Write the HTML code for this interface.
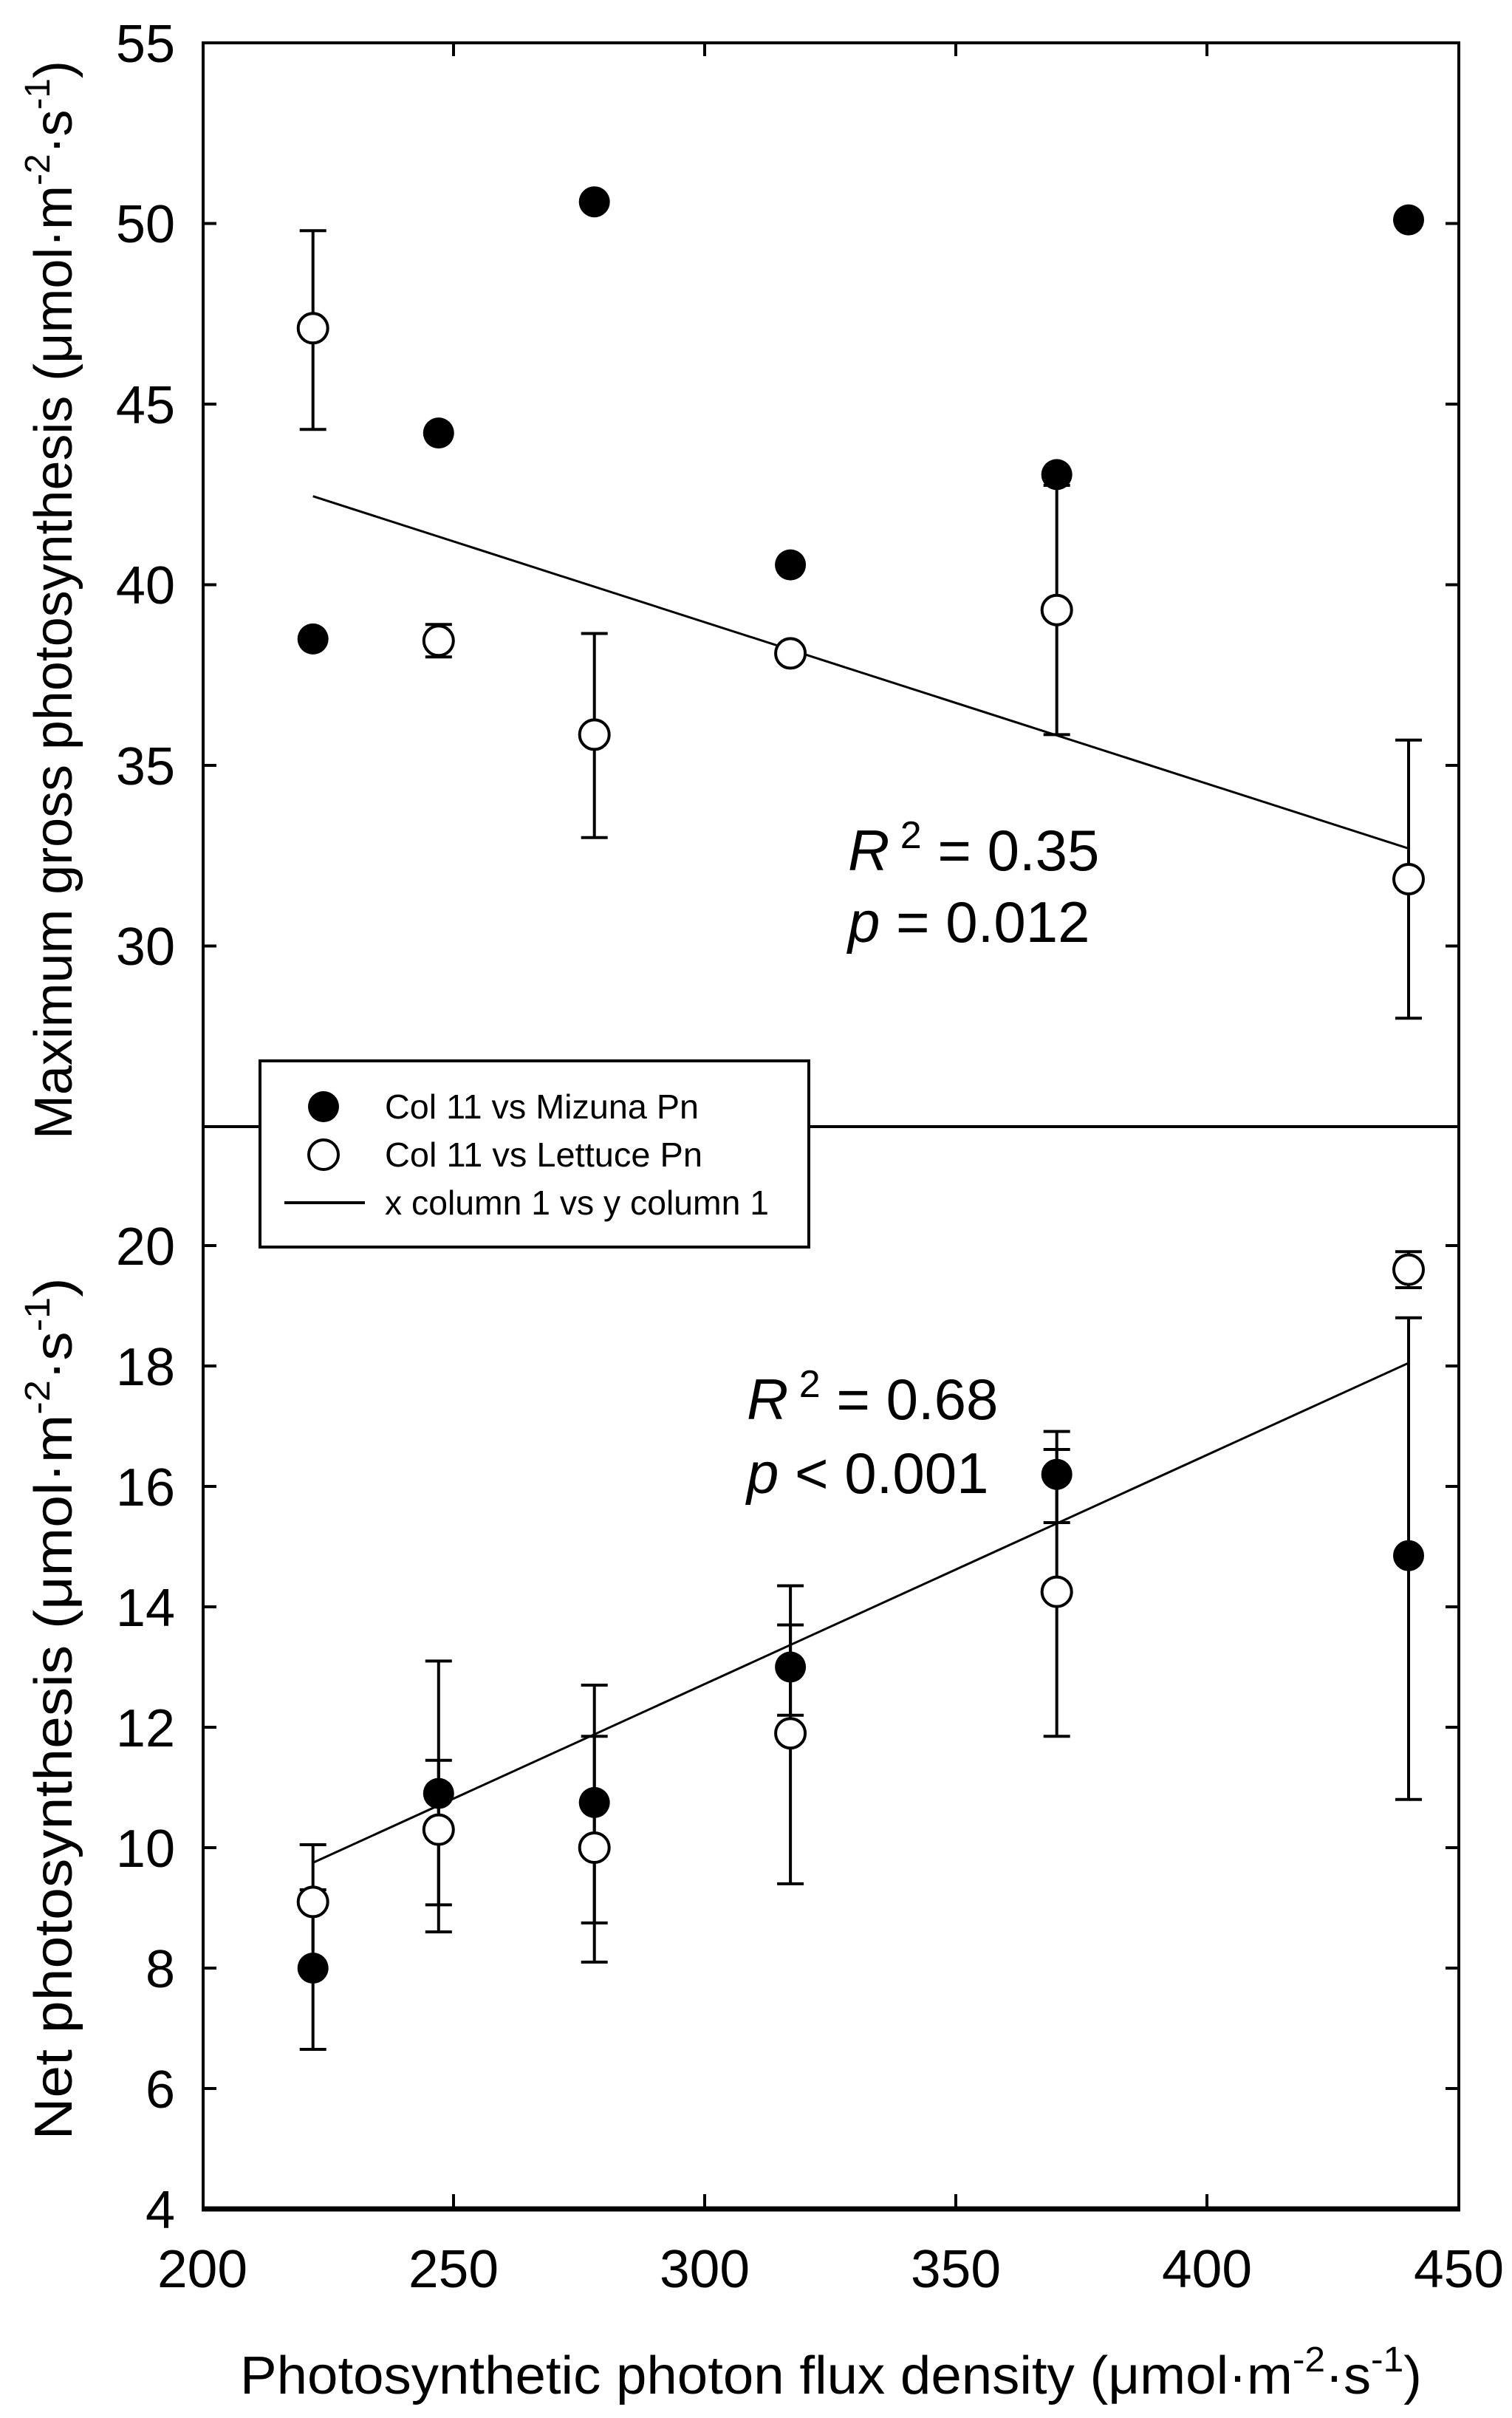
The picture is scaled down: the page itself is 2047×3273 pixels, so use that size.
<!DOCTYPE html>
<html><head><meta charset="utf-8"><style>html,body{margin:0;padding:0;background:#fff}svg{display:block}</style></head>
<body>
<svg width="2047" height="3273" viewBox="0 0 2047 3273" xmlns="http://www.w3.org/2000/svg" font-family="Liberation Sans, sans-serif">
<rect width="2047" height="3273" fill="#fff"/>
<g stroke="#000" fill="none">
<!-- frame -->
<line x1="275" y1="58" x2="1975" y2="58" stroke-width="4"/>
<line x1="275" y1="56" x2="275" y2="2993" stroke-width="4"/>
<line x1="1975" y1="56" x2="1975" y2="2993" stroke-width="4"/>
<line x1="273" y1="2990" x2="1977" y2="2990" stroke-width="7"/>
<line x1="275" y1="1525" x2="1975" y2="1525" stroke-width="4"/>
<!-- top ticks -->
<g stroke-width="4">
<path d="M275 302.5h18M275 547h18M275 791.5h18M275 1036h18M275 1280.5h18"/>
<path d="M1975 302.5h-18M1975 547h-18M1975 791.5h-18M1975 1036h-18M1975 1280.5h-18"/>
<path d="M614 58v18M954 58v18M1294 58v18M1634 58v18"/>
<path d="M275 2827h18M275 2664h18M275 2501h18M275 2338h18M275 2175h18M275 2012h18M275 1849h18M275 1686h18"/>
<path d="M1975 2827h-18M1975 2664h-18M1975 2501h-18M1975 2338h-18M1975 2175h-18M1975 2012h-18M1975 1849h-18M1975 1686h-18"/>
<path d="M614 2990v-20M954 2990v-20M1294 2990v-20M1634 2990v-20"/>
</g>
<!-- regression lines -->
<line x1="423.7" y1="671.7" x2="1907" y2="1148.5" stroke-width="3"/>
<line x1="423.7" y1="2521.4" x2="1907" y2="1844.9" stroke-width="3"/>
<!-- error bars top -->
<g stroke-width="4">
<path d="M423.7 312.3V581.3M405.7 312.3h36M405.7 581.3h36"/>
<path d="M593.8 845.3V889.3M575.8 845.3h36M575.8 889.3h36"/>
<path d="M804.7 857.5V1133.8M786.7 857.5h36M786.7 1133.8h36"/>
<path d="M1430.7 657V994.4M1412.7 657h36M1412.7 994.4h36"/>
<path d="M1907 1001.8V1378.3M1889 1001.8h36M1889 1378.3h36"/>
<!-- bottom filled -->
<path d="M423.7 2558V2774M405.7 2558h36M405.7 2774h36"/>
<path d="M593.8 2248.4V2615M575.8 2248.4h36M575.8 2615h36"/>
<path d="M804.7 2281V2602.9M786.7 2281h36M786.7 2602.9h36"/>
<path d="M1070.1 2146.5V2321.7M1052.1 2146.5h36M1052.1 2321.7h36"/>
<path d="M1430.7 1937.6V2061M1412.7 1937.6h36M1412.7 2061h36"/>
<path d="M1907 1783.8V2435.8M1889 1783.8h36M1889 2435.8h36"/>
<!-- bottom open -->
<path d="M423.7 2497V2639.6M405.7 2497h36"/>
<path d="M593.8 2382.8V2578.4M575.8 2382.8h36M575.8 2578.4h36"/>
<path d="M804.7 2350.2V2655.9M786.7 2350.2h36M786.7 2655.9h36"/>
<path d="M1070.1 2199.5V2549.9M1052.1 2199.5h36M1052.1 2549.9h36"/>
<path d="M1430.7 1962V2350.2M1412.7 1962h36M1412.7 2350.2h36"/>
<path d="M1907 1694.2V1743M1889 1694.2h36M1889 1743h36"/>
</g>
</g>
<!-- markers -->
<g fill="#000">
<circle cx="423.7" cy="864.9" r="21"/><circle cx="593.8" cy="586.1" r="21"/><circle cx="804.7" cy="273.2" r="21"/>
<circle cx="1070.1" cy="764.6" r="21"/><circle cx="1430.7" cy="642.4" r="21"/><circle cx="1907" cy="297.6" r="21"/>
<circle cx="423.7" cy="2664" r="21"/><circle cx="593.8" cy="2427.6" r="21"/><circle cx="804.7" cy="2439.9" r="21"/>
<circle cx="1070.1" cy="2256.5" r="21"/><circle cx="1430.7" cy="1995.7" r="21"/><circle cx="1907" cy="2105.7" r="21"/>
</g>
<g fill="#fff" stroke="#000" stroke-width="4">
<circle cx="423.7" cy="444.3" r="20"/><circle cx="593.8" cy="867.3" r="20"/><circle cx="804.7" cy="994.4" r="20"/>
<circle cx="1070.1" cy="884.4" r="20"/><circle cx="1430.7" cy="825.7" r="20"/><circle cx="1907" cy="1190" r="20"/>
<circle cx="423.7" cy="2574.4" r="20"/><circle cx="593.8" cy="2476.6" r="20"/><circle cx="804.7" cy="2501" r="20"/>
<circle cx="1070.1" cy="2346.2" r="20"/><circle cx="1430.7" cy="2154.6" r="20"/><circle cx="1907" cy="1718.6" r="20"/>
</g>
<!-- legend -->
<rect x="352" y="1436" width="743" height="252" fill="#fff" stroke="#000" stroke-width="4"/>
<circle cx="438" cy="1498" r="21" fill="#000"/>
<circle cx="438" cy="1563" r="20" fill="#fff" stroke="#000" stroke-width="4"/>
<line x1="385" y1="1628" x2="494" y2="1628" stroke="#000" stroke-width="4"/>
<g font-size="46" fill="#000">
<text x="521" y="1514" textLength="425" lengthAdjust="spacingAndGlyphs">Col 11 vs Mizuna Pn</text>
<text x="521" y="1579" textLength="430" lengthAdjust="spacingAndGlyphs">Col 11 vs Lettuce Pn</text>
<text x="521" y="1644" textLength="520" lengthAdjust="spacingAndGlyphs">x column 1 vs y column 1</text>
</g>
<!-- tick labels -->
<g font-size="72" fill="#000" text-anchor="end">
<text x="237" y="84">55</text><text x="237" y="328">50</text><text x="237" y="573">45</text>
<text x="237" y="817">40</text><text x="237" y="1062">35</text><text x="237" y="1306">30</text>
<text x="237" y="1712">20</text><text x="237" y="1875">18</text><text x="237" y="2038">16</text>
<text x="237" y="2201">14</text><text x="237" y="2364">12</text><text x="237" y="2527">10</text>
<text x="237" y="2690">8</text><text x="237" y="2853">6</text><text x="237" y="3016">4</text>
</g>
<g font-size="72" fill="#000" text-anchor="middle">
<text x="274" y="3096" textLength="122" lengthAdjust="spacingAndGlyphs">200</text>
<text x="614" y="3096" textLength="122" lengthAdjust="spacingAndGlyphs">250</text>
<text x="954" y="3096" textLength="122" lengthAdjust="spacingAndGlyphs">300</text>
<text x="1294" y="3096" textLength="122" lengthAdjust="spacingAndGlyphs">350</text>
<text x="1634" y="3096" textLength="122" lengthAdjust="spacingAndGlyphs">400</text>
<text x="1975" y="3096" textLength="122" lengthAdjust="spacingAndGlyphs">450</text>
</g>
<!-- axis labels -->
<text x="325" y="3240" font-size="72" fill="#000" textLength="1600" lengthAdjust="spacingAndGlyphs">Photosynthetic photon flux density (μmol·m<tspan dy="-30" font-size="48">-2</tspan><tspan dy="30">·s</tspan><tspan dy="-30" font-size="48">-1</tspan><tspan dy="30">)</tspan></text>
<text transform="translate(97,812) rotate(-90)" text-anchor="middle" font-size="72" fill="#000" textLength="1460" lengthAdjust="spacingAndGlyphs">Maximum gross photosynthesis (μmol·m<tspan dy="-30" font-size="48">-2</tspan><tspan dy="30">·s</tspan><tspan dy="-30" font-size="48">-1</tspan><tspan dy="30">)</tspan></text>
<text transform="translate(97,2313) rotate(-90)" text-anchor="middle" font-size="72" fill="#000" textLength="1167" lengthAdjust="spacingAndGlyphs">Net photosynthesis (μmol·m<tspan dy="-30" font-size="48">-2</tspan><tspan dy="30">·s</tspan><tspan dy="-30" font-size="48">-1</tspan><tspan dy="30">)</tspan></text>
<!-- stats -->
<g font-size="78" fill="#000">
<text x="1148" y="1178"><tspan font-style="italic">R</tspan><tspan dy="-30" font-size="52"> 2</tspan><tspan dy="30"> = 0.35</tspan></text>
<text x="1148" y="1275"><tspan font-style="italic">p</tspan> = 0.012</text>
<text x="1011" y="1921"><tspan font-style="italic">R</tspan><tspan dy="-30" font-size="52"> 2</tspan><tspan dy="30"> = 0.68</tspan></text>
<text x="1011" y="2021"><tspan font-style="italic">p</tspan> &lt; 0.001</text>
</g>
</svg>
</body></html>
